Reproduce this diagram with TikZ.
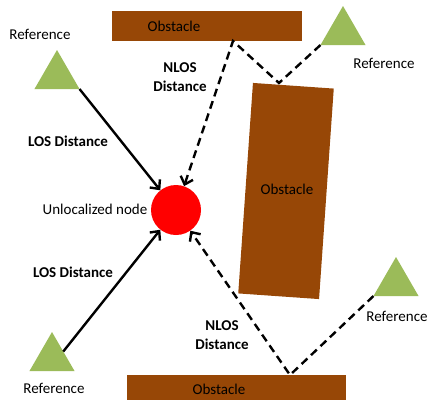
\documentclass[tikz,border=0pt]{standalone}
\usepackage{fontspec}
\setmainfont{Carlito}
\usepackage{xcolor}
\definecolor{obstbrown}{RGB}{151, 71, 6}
\definecolor{refgreen}{RGB}{155, 187, 89}
\usetikzlibrary{
  arrows.meta,
  shapes.geometric
}

\begin{document}
\begin{tikzpicture}[x=1pt, y=-1pt,
  txt/.style={font=\fontsize{15}{19}\selectfont, inner sep=0pt},
  distlabel/.style={font=\fontsize{15}{19}\selectfont\bfseries, inner sep=0pt, align=center},
  obst/.style={rectangle, fill=obstbrown, inner sep=0pt, outer sep=0pt},
  refnode/.style={regular polygon, regular polygon sides=3, fill=refgreen,
                  minimum size=52pt, inner sep=0pt, outer sep=0pt},
  los/.style={line width=2.4pt, -{Straight Barb[length=7pt, width=13pt]}},
  nlos/.style={los, dash pattern=on 8pt off 5pt}]

  \useasboundingbox (0, 0) rectangle (428, 400);

  % obstacles
  \node[obst, minimum width=190pt, minimum height=30pt] (obsT) at (207, 26) {};
  \node[obst, minimum width=81pt, minimum height=211pt, rotate=-4] (obsM) at (286, 191) {};
  \node[obst, minimum width=219pt, minimum height=25pt] (obsB) at (236.5, 387.5) {};
  \node[txt] (obsTtxt) at (174, 26) {Obstacle};
  \node[txt] (obsMtxt) at (287, 189) {Obstacle};
  \node[txt] (obsBtxt) at (219, 389) {Obstacle};

  % reference nodes
  \node[refnode] (ref1) at (57, 76) {};
  \node[refnode] (ref2) at (343, 32) {};
  \node[refnode] (ref3) at (52, 358) {};
  \node[refnode] (ref4) at (396, 283) {};
  \node[txt] (ref1txt) at (40, 34) {Reference};
  \node[txt] (ref2txt) at (384, 63) {Reference};
  \node[txt] (ref3txt) at (54, 388) {Reference};
  \node[txt] (ref4txt) at (397, 316) {Reference};

  % unlocalized node
  \node[circle, fill=red, minimum size=50pt, inner sep=0pt] (unk) at (176, 210) {};
  \node[txt] (unktxt) at (95, 209) {Unlocalized node};

  % reflection points
  \coordinate (hitM) at (279, 83);
  \coordinate (hitT) at (233, 41);
  \coordinate (hitB) at (290, 375);

  % LOS paths
  \draw[los] (ref1.corner 3) -- (unk);
  \draw[los] (ref3.side 3) -- (unk);
  \node[distlabel] (los1) at (68, 141) {LOS Distance};
  \node[distlabel] (los2) at (73, 272) {LOS Distance};

  % NLOS paths
  \draw[nlos] (ref2.corner 2) -- (hitM) -- (hitT) -- (unk);
  \draw[nlos] (ref4.corner 2) -- (hitB) -- (unk);
  \node[distlabel] (nlos1) at (180, 77.5) {NLOS\\Distance};
  \node[distlabel] (nlos2) at (222, 335) {NLOS\\Distance};

\end{tikzpicture}
\end{document}
